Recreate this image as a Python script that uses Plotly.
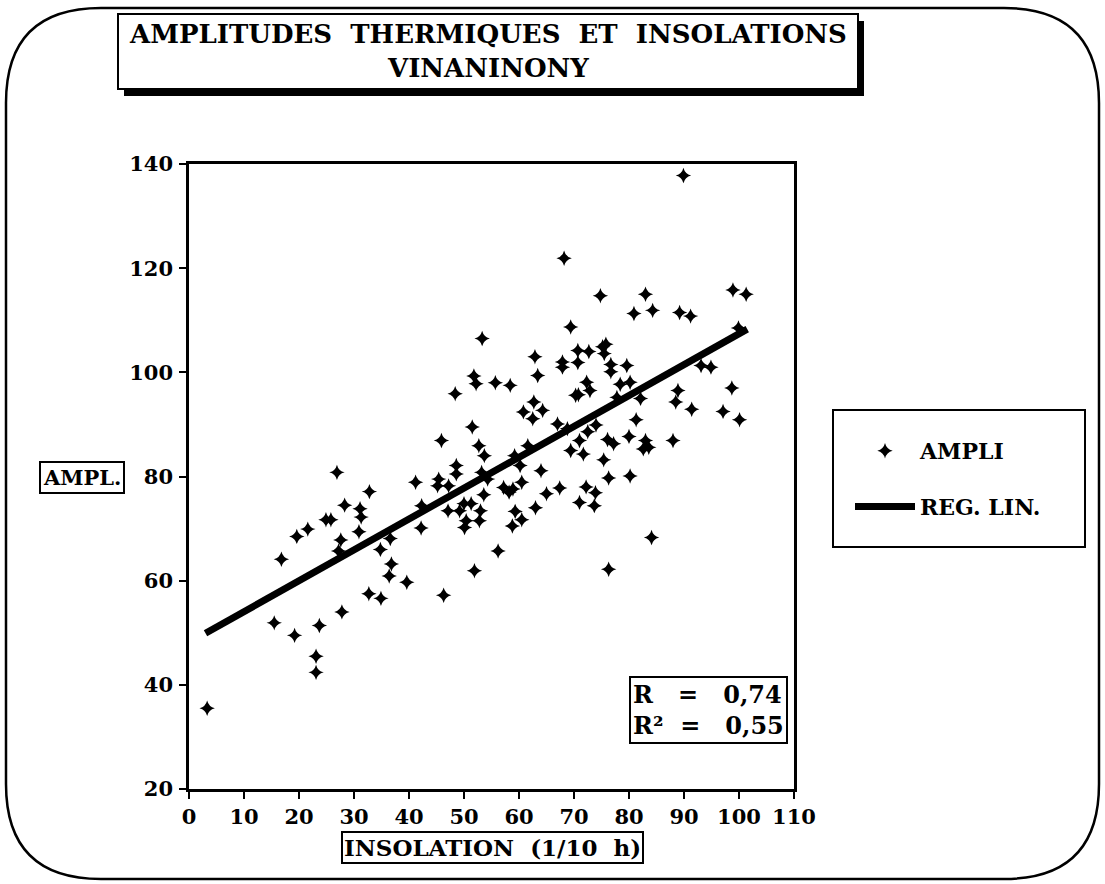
import plotly.graph_objects as go

# ---- data ----
insolation = [3.3, 15.5, 19.2, 23.7, 23.1, 23.1, 27.8, 32.7, 34.9, 16.8, 19.6, 21.6, 24.9, 25.8, 26.9,
              28.3, 31.1, 31.3, 32.8, 30.9, 27.6, 27.2, 34.8, 36.6, 36.8, 36.4, 39.6, 46.3, 51.9, 56.2,
              42.2, 41.2, 45.4, 45.2, 47.2, 48.6, 48.6, 45.9, 48.4, 51.5, 53.3, 51.8, 52.2, 55.7, 58.4,
              52.7, 53.7, 53.2, 54.3, 53.6, 50.0, 51.3, 47.1, 49.2, 50.4, 50.1, 53.0, 52.8, 57.2, 58.9,
              58.2, 60.5, 59.3, 60.5, 58.8, 63.0, 65.0, 67.4, 64.0, 69.4, 60.2, 59.2, 61.6, 60.8, 62.7,
              64.3, 62.5, 62.9, 63.4, 67.9, 67.9, 69.4, 67.0, 68.8, 70.3, 42.3, 68.2, 74.8, 83.0, 80.9,
              84.3, 89.2, 91.2, 98.9, 101.3, 99.9, 70.7, 72.7, 70.7, 75.2, 75.8, 75.5, 76.7, 76.7, 79.6,
              72.3, 72.9, 70.8, 78.4, 80.2, 77.8, 82.1, 81.3, 74.0, 72.5, 71.0, 71.7, 76.1, 77.2, 80.0,
              83.0, 83.6, 82.6, 88.0, 75.4, 76.3, 80.2, 72.2, 73.9, 71.0, 73.7, 84.1, 76.3, 88.9, 88.5,
              91.4, 93.1, 94.9, 98.7, 97.1, 100.1, 89.9]
amplitude = [35.5, 51.9, 49.5, 51.4, 45.5, 42.4, 54.0, 57.5, 56.6, 64.1, 68.5, 69.9, 71.7, 71.7, 80.8,
             74.5, 73.8, 72.2, 77.1, 69.4, 67.8, 65.7, 66.0, 68.1, 63.2, 60.9, 59.7, 57.2, 61.9, 65.7,
             70.1, 78.9, 79.5, 78.2, 78.2, 82.1, 80.5, 86.9, 95.9, 89.5, 106.5, 99.3, 97.8, 98.0, 97.5,
             85.9, 84.0, 80.8, 79.5, 76.5, 74.8, 74.8, 73.4, 73.4, 71.5, 70.2, 73.4, 71.5, 77.9, 77.6,
             77.0, 78.9, 73.3, 71.7, 70.5, 74.0, 76.7, 77.8, 81.1, 85.0, 82.1, 84.0, 85.9, 92.4, 94.3,
             92.7, 91.1, 103.0, 99.4, 102.0, 101.0, 108.7, 90.1, 89.2, 95.6, 74.4, 121.9, 114.7, 115.0, 111.3,
             111.9, 111.5, 110.8, 115.8, 115.0, 108.5, 104.2, 104.0, 101.9, 104.9, 105.4, 103.6, 101.5, 100.1, 101.3,
             98.1, 96.5, 95.7, 97.7, 98.1, 95.2, 95.0, 90.9, 89.9, 88.6, 86.9, 84.3, 87.1, 86.3, 87.7,
             86.9, 85.6, 85.3, 86.9, 83.2, 79.7, 80.1, 78.0, 76.9, 75.0, 74.4, 68.3, 62.2, 96.5, 94.3,
             92.9, 101.3, 101.0, 97.0, 92.5, 90.9, 137.8]
reg_x = [3.0, 101.5]
reg_y = [49.9, 108.3]
x_ticks = [0, 10, 20, 30, 40, 50, 60, 70, 80, 90, 100, 110]
y_ticks = [20, 40, 60, 80, 100, 120, 140]

FONT = "DejaVu Serif"

# layout helpers (pixel -> paper)
L, R, T, B = 189, 794, 164, 789
W, H = 1105, 884
def px(x):
    return (x - L) / (R - L)
def py(y):
    return (B - y) / (B - T)

fig = go.Figure()
fig.add_trace(go.Scatter(x=insolation, y=amplitude, mode="markers", name="AMPLI", legendgroup="a",
                         marker=dict(symbol="star-diamond", size=11, color="black",
                                     line=dict(width=0))))
fig.add_trace(go.Scatter(x=reg_x, y=reg_y, mode="lines", name="REG. LIN.", legendgroup="b",
                         line=dict(color="black", width=7)))

axis_common = dict(showgrid=False, zeroline=False, showline=True, linecolor="black",
                   linewidth=2.5, mirror=True, ticks="outside", ticklen=7, tickwidth=2,
                   tickcolor="black",
                   tickfont=dict(family=FONT, size=21, color="black", weight="bold"))
fig.update_xaxes(range=[0, 110], tickvals=x_ticks, **axis_common)
fig.update_yaxes(range=[20, 140], tickvals=y_ticks, ticklabelstandoff=2, **axis_common)

# outer rounded frame
x0, y0, x1, y1, r = 6, 8, 1099, 879, 95
path = (f"M {px(x0+r)},{py(y0)} L {px(x1-r)},{py(y0)} Q {px(x1)},{py(y0)} {px(x1)},{py(y0+r)} "
        f"L {px(x1)},{py(y1-r)} Q {px(x1)},{py(y1)} {px(x1-r)},{py(y1)} "
        f"L {px(x0+r)},{py(y1)} Q {px(x0)},{py(y1)} {px(x0)},{py(y1-r)} "
        f"L {px(x0)},{py(y0+r)} Q {px(x0)},{py(y0)} {px(x0+r)},{py(y0)} Z")
shapes = [
    dict(type="path", xref="paper", yref="paper", path=path, line=dict(color="black", width=2.5)),
    # title shadow + box
    dict(type="rect", xref="paper", yref="paper", x0=px(124), x1=px(864), y0=py(21), y1=py(96),
         fillcolor="black", line=dict(width=0)),
    dict(type="rect", xref="paper", yref="paper", x0=px(118), x1=px(858), y0=py(14), y1=py(89),
         fillcolor="white", line=dict(color="black", width=2)),
    # legend box
    dict(type="rect", xref="paper", yref="paper", x0=px(833), x1=px(1085), y0=py(410), y1=py(547),
         fillcolor="white", line=dict(color="black", width=2)),
]

annotations = [
    dict(text="AMPLITUDES  THERMIQUES  ET  INSOLATIONS<br>VINANINONY", xref="paper", yref="paper",
         x=px(488), y=py(51), xanchor="center", yanchor="middle", showarrow=False,
         font=dict(family=FONT, size=26, color="black", weight="bold")),
    dict(text="AMPL.", xref="paper", yref="paper", x=px(125), y=py(477), xanchor="right",
         yanchor="middle", showarrow=False, bordercolor="black", borderwidth=2, borderpad=2,
         bgcolor="white", font=dict(family=FONT, size=21, color="black", weight="bold")),
    dict(text="INSOLATION  (1/10  h)", xref="paper", yref="paper", x=px(492), y=py(831),
         xanchor="center", yanchor="top", showarrow=False, bordercolor="black", borderwidth=2,
         borderpad=1, bgcolor="white", font=dict(family=FONT, size=23, color="black", weight="bold")),
    dict(text="R   =   0,74<br>R²  =   0,55", xref="paper", yref="paper", x=px(788), y=py(710),
         xanchor="right", yanchor="middle", showarrow=False, align="left", bordercolor="black",
         borderwidth=2, borderpad=2, bgcolor="white",
         font=dict(family=FONT, size=24, color="black", weight="bold")),
]

fig.update_layout(
    width=W, height=H,
    margin=dict(l=L, r=W - R, t=T, b=H - B, autoexpand=False),
    paper_bgcolor="white", plot_bgcolor="white",
    shapes=shapes, annotations=annotations,
    showlegend=True,
    legend=dict(x=px(850), y=py(430), xanchor="left", yanchor="top", bgcolor="rgba(0,0,0,0)",
                borderwidth=0, font=dict(family=FONT, size=22, color="black", weight="bold"),
                itemwidth=60, tracegroupgap=24),
)

fig.write_html("out.html")
